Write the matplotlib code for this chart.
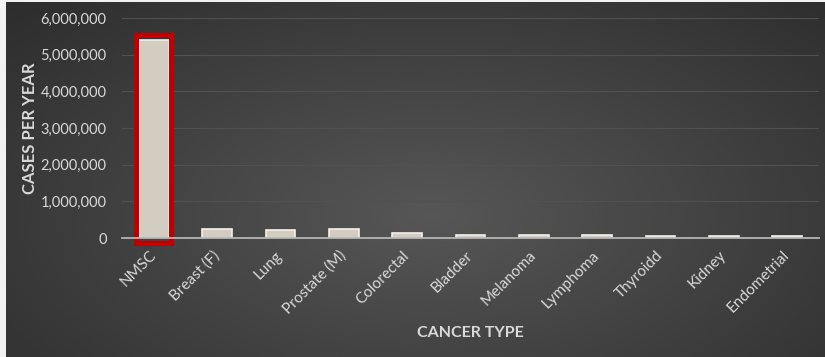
import numpy as np
import matplotlib.pyplot as plt
from matplotlib.ticker import FuncFormatter

# cancer incidence per year
categories = ['NMSC', 'Breast (F)', 'Lung', 'Prostate (M)', 'Colorectal',
              'Bladder', 'Melanoma', 'Lymphoma', 'Thyroidd', 'Kidney',
              'Endometrial']
cases = [5400000, 232000, 224000, 233000, 137000,
         74000, 76000, 71000, 63000, 64000, 53000]
highlight = 'NMSC'

plt.rcParams['font.family'] = ['Lato', 'DejaVu Sans']

fig = plt.figure(figsize=(8.25, 3.57), dpi=100)
fig.patch.set_facecolor('#f2f2f2')

# dark radial gradient backdrop
bg = fig.add_axes([6 / 825, 0, 1 - 6 / 825, 1 - 2 / 357])
yy, xx = np.mgrid[0:1:200j, 0:1:400j]
r = np.sqrt(((xx - 0.52) / 0.75) ** 2 + ((yy - 0.6) / 0.9) ** 2)
shade = np.clip(0.34 - 0.17 * r, 0.16, 0.34)
bg.imshow(shade, cmap='gray', vmin=0, vmax=1, aspect='auto',
          extent=[0, 1, 0, 1], interpolation='bicubic')
bg.axis('off')

ax = fig.add_axes([122 / 825, 1 - 238 / 357, 697 / 825, 220 / 357])
ax.patch.set_alpha(0)

x = np.arange(len(categories))
ax.bar(x, cases, width=0.47, color='#d3cdc1', edgecolor='#f3f1ea',
       linewidth=1.2, zorder=3)

# red frame around the highlighted category
i = categories.index(highlight)
ax.bar(i, cases[i] * 1.025 + 130000, bottom=-130000, width=0.56,
       fill=False, edgecolor='#c00000', linewidth=3.6, zorder=4,
       clip_on=False)

ax.set_xlim(-0.5, len(categories) - 0.5)
ax.set_ylim(0, 6000000)
ax.set_yticks(np.arange(0, 6000001, 1000000))
ax.yaxis.set_major_formatter(FuncFormatter(lambda v, p: f'{int(v):,}'))
ax.grid(axis='y', color='#515151', linewidth=0.8, zorder=0)

for side in ['top', 'right', 'left']:
    ax.spines[side].set_visible(False)
ax.spines['bottom'].set_color('#b5b5b5')
ax.spines['bottom'].set_linewidth(1.3)
ax.spines['bottom'].set_zorder(5)

ax.tick_params(axis='y', length=0, colors='#d9d9d9', labelsize=10.5, pad=11)
ax.set_xticks(x)
ax.set_xticklabels(categories, rotation=45, ha='right',
                   rotation_mode='anchor', va='center')
ax.tick_params(axis='x', length=0, colors='#d9d9d9', labelsize=11, pad=11)

ax.set_ylabel('CASES PER YEAR', fontsize=12, fontweight='bold',
              color='#d9d9d9', labelpad=2)
ax.set_xlabel('CANCER TYPE', fontsize=11.5, fontweight='bold',
              color='#d9d9d9', labelpad=7)

fig.savefig('out.png', dpi=100, facecolor=fig.get_facecolor())
